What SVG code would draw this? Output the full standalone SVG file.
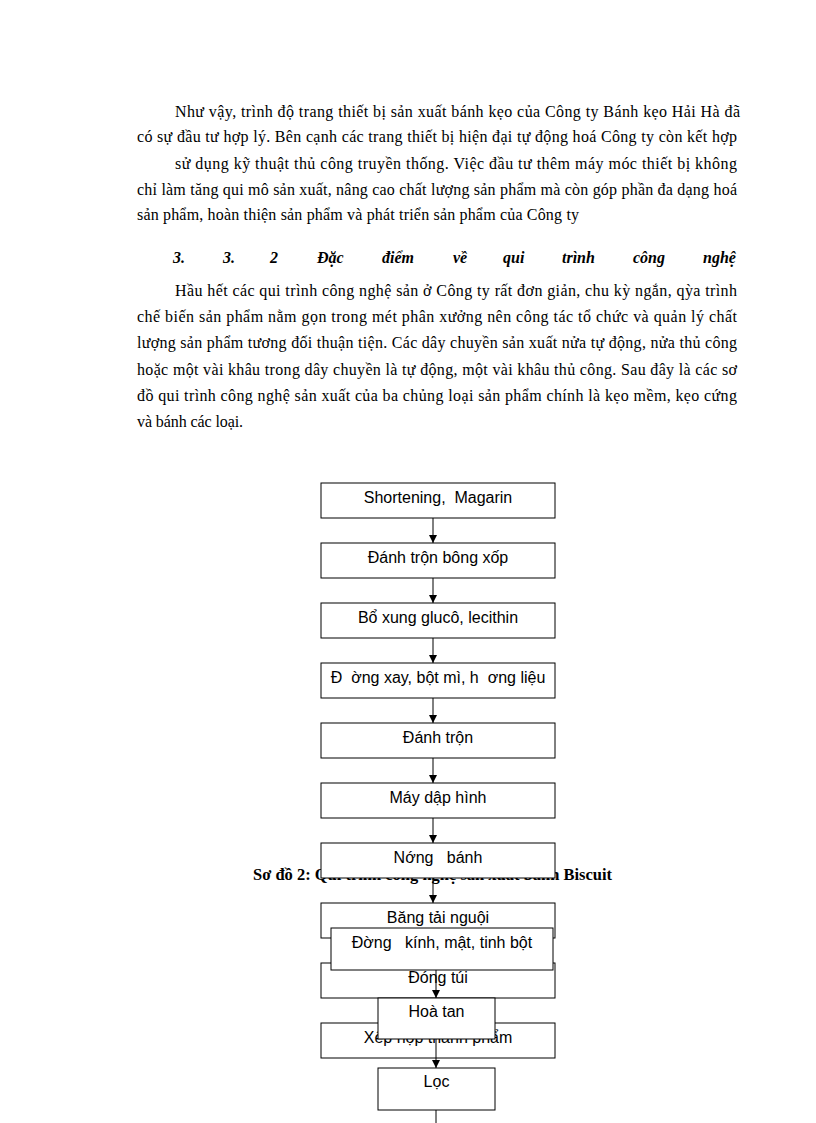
<svg xmlns="http://www.w3.org/2000/svg" width="816" height="1123" viewBox="0 0 816 1123">
<style>
.p{font-family:"Liberation Serif","Times New Roman",serif;font-size:16px;fill:#000}
.h{font-family:"Liberation Serif","Times New Roman",serif;font-size:16px;font-weight:bold;font-style:italic;fill:#000}
.cap{font-family:"Liberation Serif","Times New Roman",serif;font-size:17px;font-weight:bold;fill:#000}
.box{fill:#fff;stroke:#000;stroke-width:1}
.t{font-family:"Liberation Sans",Arial,sans-serif;font-size:16px;fill:#000;text-anchor:middle}
.c{stroke:#000;stroke-width:1;fill:none}
</style>
<defs>
<marker id="ah" markerWidth="8" markerHeight="8" refX="8" refY="4" orient="auto" markerUnits="userSpaceOnUse">
<path d="M0,0 L8,4 L0,8 Z" fill="#000"/>
</marker>
</defs>
<rect width="816" height="1123" fill="#fff"/>
<g id="text">
<text class="p" x="175" y="117" textLength="565" lengthAdjust="spacing">Như vậy, trình  độ trang thiết bị sản xuất bánh kẹo của Công ty Bánh kẹo Hải Hà đã</text>
<text class="p" x="137" y="142" textLength="600" lengthAdjust="spacing">có sự đầu tư hợp lý. Bên cạnh các trang thiết bị hiện đại tự động hoá Công ty còn kết hợp</text>
<text class="p" x="175" y="169" textLength="562" lengthAdjust="spacing">sử dụng kỹ thuật thủ công truyền thống. Việc đầu tư thêm máy móc thiết bị không</text>
<text class="p" x="137" y="195" textLength="600" lengthAdjust="spacing">chỉ làm tăng qui mô sản xuất, nâng cao chất lượng sản phẩm mà còn góp phần đa dạng hoá</text>
<text class="p" x="137" y="220" textLength="442" lengthAdjust="spacing">sản phẩm, hoàn thiện sản phẩm và phát triển sản phẩm của Công ty</text>
<text class="h" y="263"><tspan x="173">3.</tspan><tspan x="223">3.</tspan><tspan x="270">2</tspan><tspan x="317">Đặc</tspan><tspan x="382">điểm</tspan><tspan x="453">về</tspan><tspan x="503">qui</tspan><tspan x="562">trình</tspan><tspan x="633">công</tspan><tspan x="703">nghệ</tspan></text>
<text class="p" x="175" y="296" textLength="562" lengthAdjust="spacing">Hầu hết các qui trình công nghệ sản ở Công ty rất đơn giản, chu kỳ ngắn, qỳa trình</text>
<text class="p" x="137" y="322" textLength="600" lengthAdjust="spacing">chế biến sản phẩm nằm gọn trong mét phân xưởng nên công tác tổ chức và quản lý chất</text>
<text class="p" x="137" y="348" textLength="600" lengthAdjust="spacing">lượng sản phẩm tương đối thuận tiện. Các dây chuyền sản xuất nửa tự động, nửa thủ công</text>
<text class="p" x="137" y="375" textLength="600" lengthAdjust="spacing">hoặc một vài khâu trong dây chuyền là tự động, một vài khâu thủ công. Sau đây là các sơ</text>
<text class="p" x="137" y="401" textLength="600" lengthAdjust="spacing">đồ qui trình công nghệ sản xuất của ba chủng loại sản phẩm chính là kẹo mềm, kẹo cứng</text>
<text class="p" x="137" y="427" textLength="106" lengthAdjust="spacing">và bánh các loại.</text>
</g>
<text id="caption" class="cap" x="253" y="880" textLength="359" lengthAdjust="spacingAndGlyphs">Sơ đồ 2: Qui trình công nghệ sản xuất bánh Biscuit</text>
<g id="n1"><rect class="box" x="321" y="483" width="234" height="35"/><text class="t" x="438" y="503" xml:space="preserve">Shortening,  Magarin</text></g>
<g id="n2"><rect class="box" x="321" y="543" width="234" height="35"/><text class="t" x="438" y="563">Đánh trộn bông xốp</text></g>
<g id="n3"><rect class="box" x="321" y="603" width="234" height="35"/><text class="t" x="438" y="623">Bổ xung glucô, lecithin</text></g>
<g id="n4"><rect class="box" x="321" y="663" width="234" height="35"/><text class="t" x="438" y="683" xml:space="preserve">Đ  ờng xay, bột mì, h  ơng liệu</text></g>
<g id="n5"><rect class="box" x="321" y="723" width="234" height="35"/><text class="t" x="438" y="743">Đánh trộn</text></g>
<g id="n6"><rect class="box" x="321" y="783" width="234" height="35"/><text class="t" x="438" y="803">Máy dập hình</text></g>
<g id="n7"><rect class="box" x="321" y="843" width="234" height="35"/><text class="t" x="438" y="863" xml:space="preserve">Nớng   bánh</text></g>
<g id="n8"><rect class="box" x="321" y="903" width="234" height="35"/><text class="t" x="438" y="923">Băng tải nguội</text></g>
<g id="n9"><rect class="box" x="321" y="963" width="234" height="35"/><text class="t" x="438" y="983">Đóng túi</text></g>
<g id="n10"><rect class="box" x="321" y="1023" width="234" height="35"/><text class="t" x="438" y="1043">Xếp hộp thành phẩm</text></g>
<g id="connectors1">
<line class="c" x1="433" y1="518" x2="433" y2="543" marker-end="url(#ah)"/>
<line class="c" x1="433" y1="578" x2="433" y2="603" marker-end="url(#ah)"/>
<line class="c" x1="433" y1="638" x2="433" y2="663" marker-end="url(#ah)"/>
<line class="c" x1="433" y1="698" x2="433" y2="723" marker-end="url(#ah)"/>
<line class="c" x1="433" y1="758" x2="433" y2="783" marker-end="url(#ah)"/>
<line class="c" x1="433" y1="818" x2="433" y2="843" marker-end="url(#ah)"/>
<line class="c" x1="433" y1="878" x2="433" y2="903" marker-end="url(#ah)"/>
</g>
<g id="m1"><rect class="box" x="331" y="928" width="222" height="42"/><text class="t" x="442" y="948" xml:space="preserve">Đờng   kính, mật, tinh bột</text></g>
<g id="m2"><rect class="box" x="378" y="998" width="117" height="41"/><text class="t" x="436.5" y="1017">Hoà tan</text></g>
<g id="m3"><rect class="box" x="378" y="1068" width="117" height="42"/><text class="t" x="436.5" y="1087">Lọc</text></g>
<g id="connectors2">
<line class="c" x1="436" y1="970" x2="436" y2="998" marker-end="url(#ah)"/>
<line class="c" x1="436" y1="1039" x2="436" y2="1068" marker-end="url(#ah)"/>
<line class="c" x1="436" y1="1110" x2="436" y2="1123"/>
</g>
</svg>
